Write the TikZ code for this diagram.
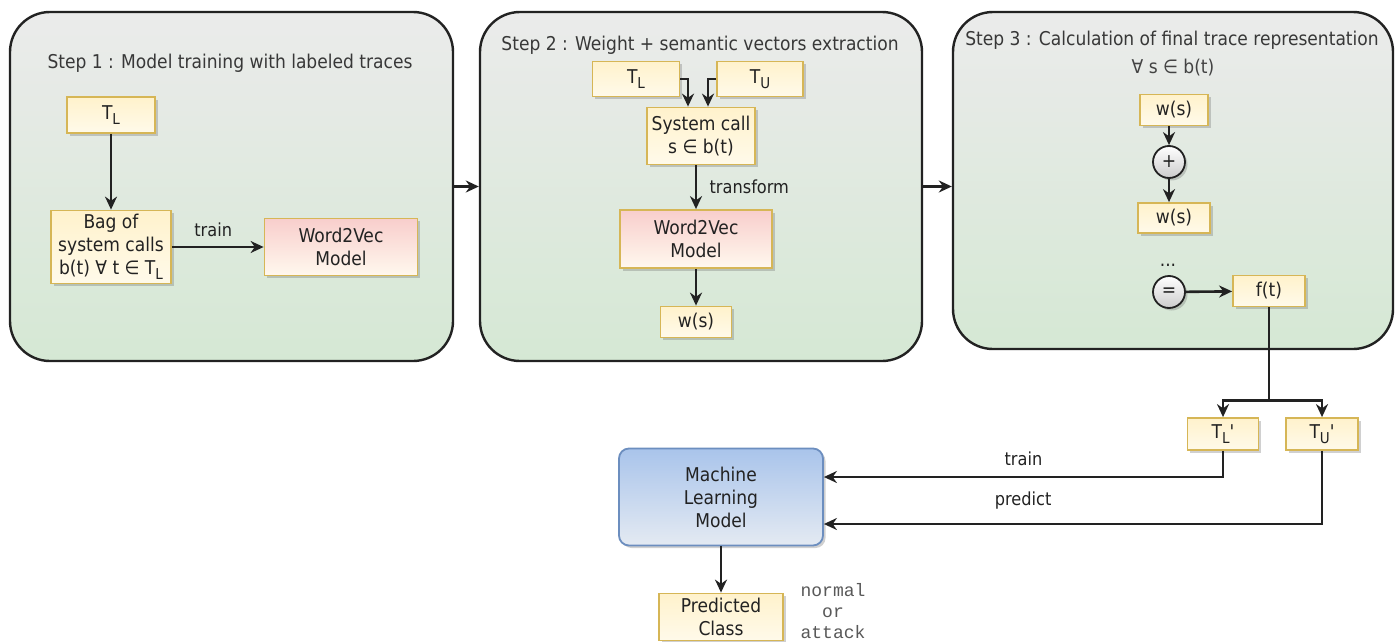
\documentclass[tikz,border=0pt]{standalone}
\usepackage{fontspec}
\setmainfont{DejaVu Sans Condensed}
\setmonofont{Liberation Mono}
\usetikzlibrary{arrows.meta,shadows,positioning,calc}

\definecolor{panelTop}{HTML}{EBEBEB}
\definecolor{panelBot}{HTML}{D5E8D4}
\definecolor{ylwTop}{HTML}{FFF2CC}
\definecolor{ylwBot}{HTML}{FFFAEA}
\definecolor{ylwLine}{HTML}{D6B656}
\definecolor{pinkTop}{HTML}{F8CECC}
\definecolor{pinkBot}{HTML}{FFF8EE}
\definecolor{blueTop}{HTML}{A9C4EB}
\definecolor{blueBot}{HTML}{E4EAF2}
\definecolor{blueLine}{HTML}{6C8EBF}
\definecolor{ink}{HTML}{222222}

% subscript as used in the trace set names
\newcommand{\sbs}[1]{\raisebox{-0.45ex}{\fontsize{15}{15}\selectfont #1}}

\tikzset{
  txt/.style={font=\fontsize{19}{23}\selectfont, text=ink, align=center},
  lbl/.style={font=\fontsize{18}{21}\selectfont, text=ink},
  panel/.style={draw=ink, line width=2.4pt, rounded corners=40pt,
    top color=panelTop, bottom color=panelBot, inner sep=0pt},
  shade/.style={drop shadow={shadow xshift=2.5pt, shadow yshift=-2.5pt,
    opacity=0.3, fill=black!60}},
  ybox/.style={txt, shade, draw=ylwLine, line width=1.8pt,
    top color=ylwTop, bottom color=ylwBot, inner sep=0pt},
  pbox/.style={txt, shade, draw=ylwLine, line width=1.8pt,
    top color=pinkTop, bottom color=pinkBot, inner sep=0pt},
  mlbox/.style={txt, shade, draw=blueLine, line width=1.8pt, rounded corners=10pt,
    top color=blueTop, bottom color=blueBot, inner sep=0pt},
  opnode/.style={circle, txt, shade, draw=ink, line width=1.8pt,
    top color=white, bottom color=black!20, minimum size=32pt, inner sep=0pt},
  arr/.style={draw=ink, line width=2.6pt, -{Stealth[length=13pt,width=12pt]}},
  ln/.style={draw=ink, line width=2.6pt}
}

\begin{document}
\begin{tikzpicture}[x=1pt, y=-1pt]
\useasboundingbox (0,0) rectangle (1400,642);
\fill[white] (0,0) rectangle (1400,642);

% the three step panels
\node[panel, minimum width=443pt, minimum height=349pt] (p1) at (231.5,186.5) {};
\node[panel, minimum width=442pt, minimum height=349pt] (p2) at (701,186.5) {};
\node[panel, minimum width=440pt, minimum height=337pt] (p3) at (1173,180.5) {};

\node[txt, text=ink!90] (t1) at (230,63) {Step 1 : Model training with labeled traces};
\node[txt, text=ink!90] (t2) at (700,45) {Step 2 : Weight + semantic vectors extraction};
\node[txt, text=ink!90] (t3) at (1172,40) {Step 3 : Calculation of final trace representation};

% step 1
\node[ybox, minimum width=88pt, minimum height=36pt] (tl1) at (111,115) {T\sbs{L}};
\node[ybox, minimum width=120pt, minimum height=73pt] (bag) at (111,247)
  {Bag of\\system calls\\b(t) ∀ t ∈ T\sbs{L}};
\node[pbox, minimum width=153pt, minimum height=57pt] (w2v1) at (341,247) {Word2Vec\\Model};
\draw[arr] (tl1) -- (bag);
\draw[arr] (bag) -- (w2v1) node[lbl, pos=0.45, above=6pt] (trainA) {train};

% step 2
\node[ybox, minimum width=87pt, minimum height=35pt] (tl2) at (636,79) {T\sbs{L}};
\node[ybox, minimum width=86pt, minimum height=35pt] (tu2) at (760,79) {T\sbs{U}};
\node[ybox, minimum width=108pt, minimum height=57pt] (sc) at (701,136) {System call\\s ∈ b(t)};
\node[pbox, minimum width=152pt, minimum height=58pt] (w2v2) at (696,239) {Word2Vec\\Model};
\node[ybox, minimum width=71pt, minimum height=31pt] (ws2) at (696,322) {w(s)};
\draw[arr] (tl2.east) -| ($(sc.north)+(-13,0)$);
\draw[arr] (tu2.west) -| ($(sc.north)+(7,0)$);
\draw[arr] (sc.south -| w2v2) -- (w2v2) node[lbl, midway, right=9pt] (transf) {transform};
\draw[arr] (w2v2) -- (ws2);

% step 3
\node[txt, text=ink!85] (forall) at (1173,68) {∀ s ∈ b(t)};
\node[ybox, minimum width=68pt, minimum height=31pt] (ws3a) at (1174,110) {w(s)};
\node[opnode] (plus) at (1169,162) {+};
\node[ybox, minimum width=72pt, minimum height=30pt] (ws3b) at (1174,218) {w(s)};
\node[txt, anchor=base] (dots) at (1168,266) {...};
\node[opnode] (eq) at (1169,292) {=};
\node[ybox, minimum width=72pt, minimum height=31pt] (ft) at (1269,291) {f(t)};
\draw[arr] (plus |- ws3a.south) -- (plus.north);
\draw[arr] (plus.south) -- (plus |- ws3b.north);
\draw[arr] (eq) -- (ft);

% panel to panel flow
\draw[arr] (p1.east) -- (p2.west);
\draw[arr] (p2.east) -- (p2.east -| p3.west);

% split of the final representation
\node[ybox, minimum width=71pt, minimum height=32pt] (tlp) at (1223,434) {T\sbs{L}\textquotesingle};
\node[ybox, minimum width=72pt, minimum height=32pt] (tup) at (1322,434) {T\sbs{U}\textquotesingle};
\coordinate (split) at ($(ft.south)+(0,93)$);
\draw[ln] (ft.south) -- (split);
\draw[arr] (split) -| (tlp.north);
\draw[arr] (split) -| (tup.north);

% classifier
\node[mlbox, minimum width=204pt, minimum height=97pt] (ml) at (721,497) {Machine\\Learning\\Model};
\node[ybox, minimum width=124pt, minimum height=47pt] (pc) at (721,617) {Predicted\\Class};
\node[font=\ttfamily\fontsize{18}{21}\selectfont, text=ink!75, align=center] (cls) at (833,611) {normal\\or\\attack};
\draw[arr] (tlp.south) |- ($(ml.east)+(0,-20)$) node[lbl, pos=0.75, above=7pt] (trainB) {train};
\draw[arr] (tup.south) |- ($(ml.east)+(0,27)$) node[lbl, pos=0.8, above=10pt] (pred) {predict};
\draw[arr] (ml) -- (pc);
\end{tikzpicture}
\end{document}
